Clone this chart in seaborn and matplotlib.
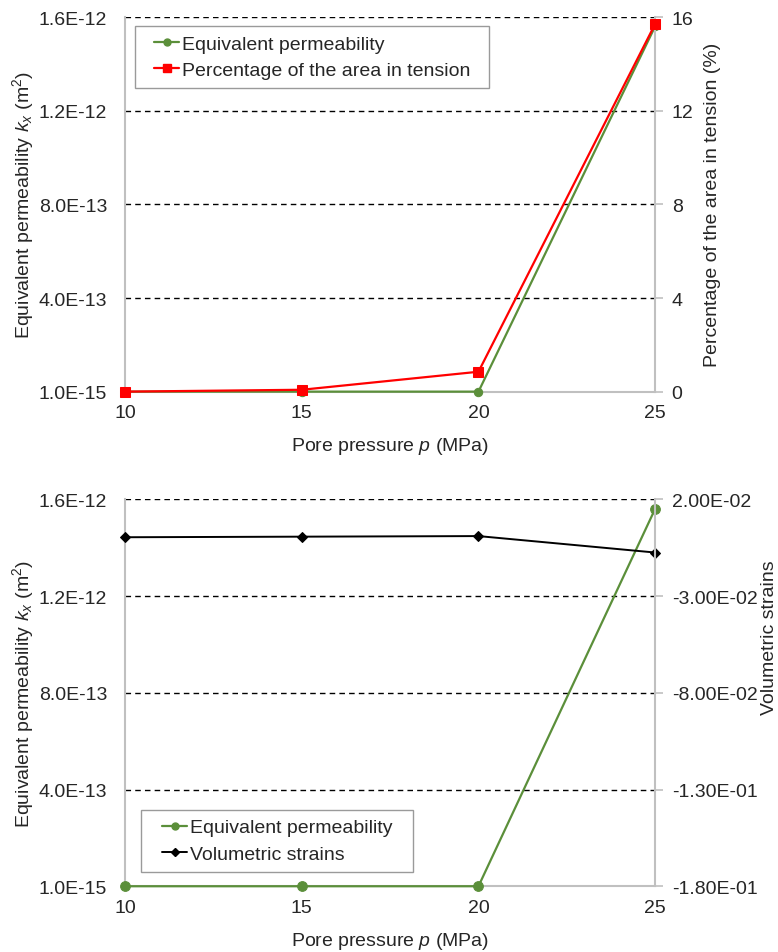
import matplotlib
matplotlib.use("Agg")
import matplotlib.pyplot as plt
import seaborn as sns
import pandas as pd
from matplotlib.lines import Line2D
from matplotlib.patches import Rectangle

sns.set_theme(style="white")
plt.rcParams['font.family'] = ['Liberation Sans', 'DejaVu Sans']
plt.rcParams['mathtext.fontset'] = 'custom'
plt.rcParams['mathtext.rm'] = 'Liberation Sans'
plt.rcParams['mathtext.it'] = 'Liberation Sans:italic'

# ---- data ----
pressure = [10, 15, 20, 25]
permeability = [1.0e-15, 1.0e-15, 1.0e-15, 1.56e-12]
tension_pct = [0.0, 0.08, 0.85, 15.7]
vol_strain = [0.0004, 0.0007, 0.0010, -0.0075]

x_ticks = [10, 15, 20, 25]
perm_ticks = [1.0e-15, 4.0e-13, 8.0e-13, 1.2e-12, 1.6e-12]
perm_labels = ["1.0E-15", "4.0E-13", "8.0E-13", "1.2E-12", "1.6E-12"]
pct_ticks = [0, 4, 8, 12, 16]
pct_labels = ["0", "4", "8", "12", "16"]
strain_ticks = [-0.18, -0.13, -0.08, -0.03, 0.02]
strain_labels = ["-1.80E-01", "-1.30E-01", "-8.00E-02", "-3.00E-02", "2.00E-02"]

df = pd.DataFrame({"p": pressure, "k": permeability, "t": tension_pct, "v": vol_strain})

GREEN = "#5b8f3a"
RED = "#ff0000"
BLACK = "#000000"
SPINE = "#c0c0c0"
TXT = "#262626"
FS = 14

fig = plt.figure(figsize=(7.78, 9.53), dpi=100)
ax1 = fig.add_axes([0.161, 0.588, 0.681, 0.393])
ax2 = fig.add_axes([0.161, 0.069, 0.681, 0.406])


def style(ax, twin, right_ticks, right_labels, right_lim, right_label, left_label):
    ax.set_xlim(10, 25)
    ax.set_ylim(1.0e-15, 1.6e-12)
    ax.set_xticks(x_ticks)
    ax.set_xticklabels([str(t) for t in x_ticks], fontsize=FS)
    ax.set_yticks(perm_ticks)
    ax.set_yticklabels(perm_labels, fontsize=FS)
    for y in perm_ticks[1:]:
        ax.axhline(y, color="black", linestyle=(0, (4, 3)), linewidth=1.0, zorder=0.5)
    for s in ["top", "right"]:
        ax.spines[s].set_visible(False)
    for s in ["left", "bottom"]:
        ax.spines[s].set_color(SPINE)
        ax.spines[s].set_linewidth(1.5)
    ax.tick_params(axis="x", length=0, pad=9, colors=TXT)
    ax.tick_params(axis="y", length=0, pad=13, colors=TXT)
    ax.set_xlabel("Pore pressure $\\mathit{p}$ (MPa)", fontsize=FS, labelpad=10, color=TXT)
    ax.set_ylabel(left_label, fontsize=FS, labelpad=2, color=TXT)

    twin.set_ylim(*right_lim)
    twin.set_yticks(right_ticks)
    twin.set_yticklabels(right_labels, fontsize=FS)
    for s in ["top", "left", "bottom"]:
        twin.spines[s].set_visible(False)
    twin.spines["right"].set_color(SPINE)
    twin.spines["right"].set_linewidth(1.5)
    twin.tick_params(axis="y", length=6, width=1.2, color=SPINE, pad=6, labelcolor=TXT)
    twin.set_ylabel(right_label, fontsize=FS, color=TXT)


def boxed_legend(ax, handles, labels, anchor, loc, extra_x):
    W = fig.get_size_inches()[0] * fig.dpi
    dxa = extra_x / ax.bbox.width
    leg = ax.legend(handles, labels, loc=loc,
                    bbox_to_anchor=(anchor[0] + dxa, anchor[1]), fontsize=FS,
                    frameon=False, handlelength=1.3, handletextpad=0.15,
                    borderpad=0.45, labelspacing=0.45, borderaxespad=0.0)
    for t in leg.get_texts():
        t.set_color(TXT)
    leg.set_zorder(6)
    fig.canvas.draw()
    bb = leg.get_window_extent().transformed(ax.transAxes.inverted())
    rect = Rectangle((bb.x0 - dxa, bb.y0), bb.width + 2 * dxa, bb.height,
                     transform=ax.transAxes, facecolor="white",
                     edgecolor="#9a9a9a", linewidth=1.0, zorder=5,
                     clip_on=False)
    ax.add_patch(rect)
    return leg


left_label = "Equivalent permeability $\\mathit{k}_{x}$ (m$^{2}$)"

# ---- top panel ----
t1 = ax1.twinx()
sns.lineplot(data=df, x="p", y="k", ax=ax1, color=GREEN, marker="o",
             markersize=6, markeredgecolor=GREEN, linewidth=1.6, zorder=3,
             clip_on=False)
sns.lineplot(data=df, x="p", y="t", ax=t1, color=RED, marker="s",
             markersize=7.5, markeredgecolor=RED, linewidth=1.6, zorder=3,
             clip_on=False)
style(ax1, t1, pct_ticks, pct_labels, (0, 16),
      "Percentage of the area in tension (%)", left_label)
t1.yaxis.set_label_coords(1.092, 0.5)

# ---- bottom panel ----
t2 = ax2.twinx()
sns.lineplot(data=df, x="p", y="v", ax=t2, color=BLACK, marker="D",
             markersize=5, markeredgecolor=BLACK, linewidth=1.4, zorder=2,
             clip_on=False)
sns.lineplot(data=df, x="p", y="k", ax=ax2, color=GREEN, marker="o",
             markersize=7, markeredgecolor=GREEN, linewidth=1.6, zorder=3,
             clip_on=False)
style(ax2, t2, strain_ticks, strain_labels, (-0.18, 0.02),
      "Volumetric strains", left_label)
t2.yaxis.set_label_coords(1.2, 0.646)

h1 = [Line2D([], [], color=GREEN, marker="o", markersize=5, lw=1.6),
      Line2D([], [], color=RED, marker="s", markersize=6, lw=1.6)]
boxed_legend(t1, h1, ["Equivalent permeability", "Percentage of the area in tension"],
             (0.019, 0.975), "upper left", 10)

h2 = [Line2D([], [], color=GREEN, marker="o", markersize=5, lw=1.6),
      Line2D([], [], color=BLACK, marker="D", markersize=4.5, lw=1.4)]
boxed_legend(t2, h2, ["Equivalent permeability", "Volumetric strains"],
             (0.03, 0.038), "lower left", 12)

fig.savefig("out.png", dpi=100)
